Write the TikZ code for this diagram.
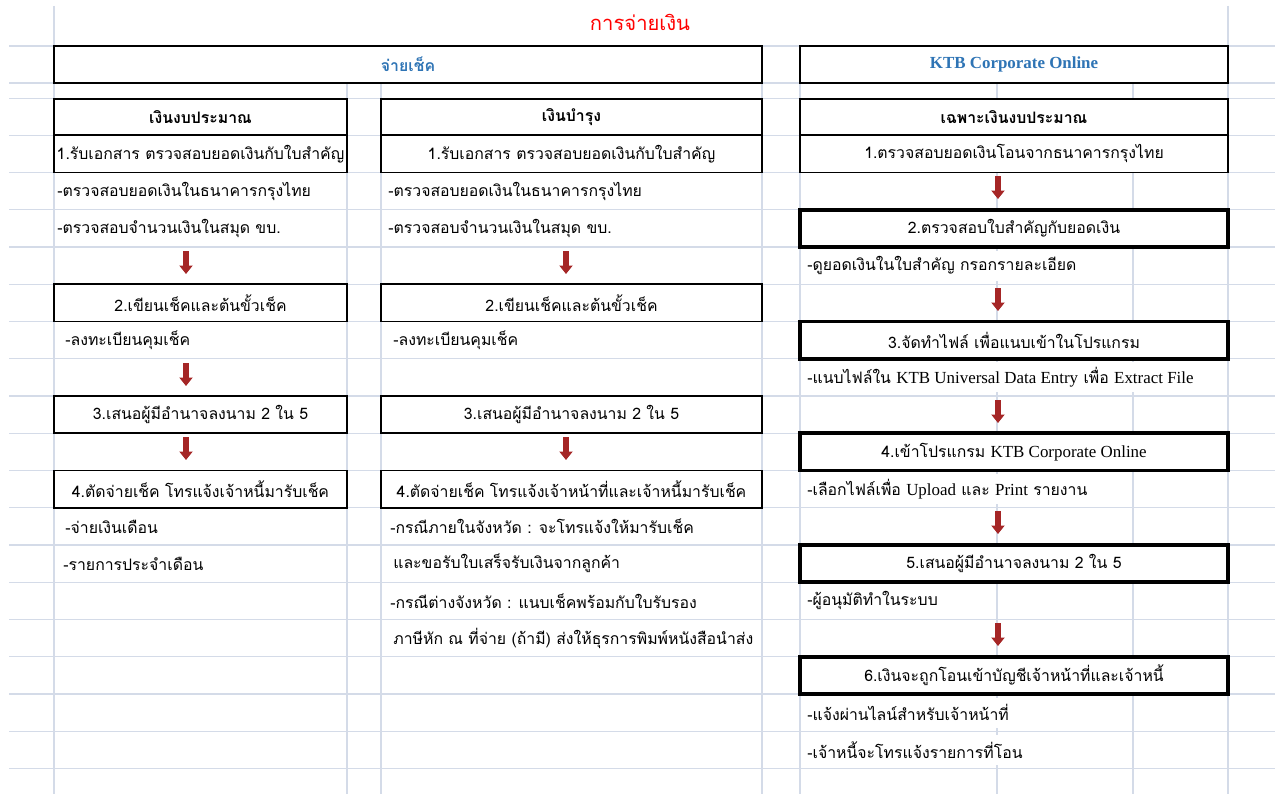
\documentclass[tikz,border=0pt]{standalone}
\usepackage{fontspec}
\setmainfont[Script=Thai]{Loma}
\newfontfamily\latinfont[Scale=1.07]{Liberation Serif}
\usetikzlibrary{arrows.meta}
\definecolor{gridline}{RGB}{212,219,232}
\definecolor{headblue}{RGB}{46,116,181}
\definecolor{arrowred}{RGB}{165,38,38}
\newcommand{\enword}[1]{{\latinfont #1}}

\begin{document}
\begin{tikzpicture}[x=0.02cm, y=-0.02cm,
  every node/.style={font=\fontsize{9}{11}\selectfont},
  cell/.style={draw, line width=1.1pt, fill=white, inner sep=0pt, minimum height=0.745cm},
  colL/.style={cell, minimum width=5.86cm},
  colM/.style={cell, minimum width=7.62cm},
  colR/.style={cell, minimum width=8.56cm},
  stepR/.style={colR, line width=2.2pt},
  head/.style={font=\fontsize{9}{11}\selectfont\bfseries},
  note/.style={anchor=west, fill=white, inner sep=0pt, minimum height=0.6cm},
  flow/.style={draw=arrowred, line width=0.12cm, -{Triangle[length=0.17cm, width=0.26cm]}}]
  \fill[white] (0,0) rectangle (1275,794);
  \useasboundingbox (0,0) rectangle (1275,794);
  % cuadricula de la hoja
  \foreach \y in {46,83,98.5} \draw[gridline, line width=0.6pt] (9,\y) -- (1275,\y);
  \foreach \k in {0,...,17} \draw[gridline, line width=0.6pt] (9,135.25+37.25*\k) -- (1275,135.25+37.25*\k);
  \foreach \x in {54,1228} \draw[gridline, line width=0.6pt] (\x,6) -- (\x,794);
  \foreach \x in {347,381,762,800,997,1133} \draw[gridline, line width=0.6pt] (\x,83) -- (\x,794);

  % titulo y cabeceras
  \node[text=red, font=\fontsize{11.5}{14}\selectfont] (title) at (640,22) {การจ่ายเงิน};
  \node[cell, minimum width=14.16cm, minimum height=0.74cm, text=headblue, font=\fontsize{9}{11}\selectfont\bfseries] (cheque) at (408,64.5) {จ่ายเช็ค};
  \node[cell, minimum width=8.56cm, minimum height=0.74cm, text=headblue, font=\latinfont\fontsize{9}{11}\selectfont\bfseries] (ktb) at (1014,64.5) {KTB Corporate Online};

  % columna izquierda
  \node[colL, head, minimum height=0.73cm] (lhead) at (200.5,116.9) {เงินงบประมาณ};
  \node[colL] (l1) at (200.5,153.9) {1.รับเอกสาร ตรวจสอบยอดเงินกับใบสำคัญ};
  \node[note] (l1a) at (57,191.1) {-ตรวจสอบยอดเงินในธนาคารกรุงไทย};
  \node[note] (l1b) at (57,228.4) {-ตรวจสอบจำนวนเงินในสมุด ขบ.};
  \node[colL] (l2) at (200.5,302.9) {2.เขียนเช็คและต้นขั้วเช็ค};
  \node[note] (l2a) at (65,340.1) {-ลงทะเบียนคุมเช็ค};
  \node[colL] (l3) at (200.5,414.6) {3.เสนอผู้มีอำนาจลงนาม 2 ใน 5};
  \node[colL] (l4) at (200.5,489.1) {4.ตัดจ่ายเช็ค โทรแจ้งเจ้าหนี้มารับเช็ค};
  \node[note] (l4a) at (65,526.4) {-จ่ายเงินเดือน};
  \node[note] (l4b) at (63,563.6) {-รายการประจำเดือน};

  % columna central
  \node[colM, head, minimum height=0.73cm] (mhead) at (571.5,116.9) {เงินบำรุง};
  \node[colM] (m1) at (571.5,153.9) {1.รับเอกสาร ตรวจสอบยอดเงินกับใบสำคัญ};
  \node[note] (m1a) at (388,191.1) {-ตรวจสอบยอดเงินในธนาคารกรุงไทย};
  \node[note] (m1b) at (388,228.4) {-ตรวจสอบจำนวนเงินในสมุด ขบ.};
  \node[colM] (m2) at (571.5,302.9) {2.เขียนเช็คและต้นขั้วเช็ค};
  \node[note] (m2a) at (393,340.1) {-ลงทะเบียนคุมเช็ค};
  \node[colM] (m3) at (571.5,414.6) {3.เสนอผู้มีอำนาจลงนาม 2 ใน 5};
  \node[colM] (m4) at (571.5,489.1) {4.ตัดจ่ายเช็ค โทรแจ้งเจ้าหน้าที่และเจ้าหนี้มารับเช็ค};
  \node[note] (m4a) at (390,526.4) {-กรณีภายในจังหวัด : จะโทรแจ้งให้มารับเช็ค};
  \node[note] (m4b) at (393,563.6) {และขอรับใบเสร็จรับเงินจากลูกค้า};
  \node[note] (m4c) at (390,600.9) {-กรณีต่างจังหวัด : แนบเช็คพร้อมกับใบรับรอง};
  \node[note] (m4d) at (393,638.1) {ภาษีหัก ณ ที่จ่าย (ถ้ามี) ส่งให้ธุรการพิมพ์หนังสือนำส่ง};

  % columna derecha
  \node[colR, head, minimum height=0.73cm] (rhead) at (1014,116.9) {เฉพาะเงินงบประมาณ};
  \node[colR] (r1) at (1014,153.9) {1.ตรวจสอบยอดเงินโอนจากธนาคารกรุงไทย};
  \node[stepR] (r2) at (1014,228.4) {2.ตรวจสอบใบสำคัญกับยอดเงิน};
  \node[note] (r2a) at (807,265.6) {-ดูยอดเงินในใบสำคัญ กรอกรายละเอียด};
  \node[stepR] (r3) at (1014,340.1) {3.จัดทำไฟล์ เพื่อแนบเข้าในโปรแกรม};
  \node[note] (r3a) at (807,377.4) {-แนบไฟล์ใน \enword{KTB Universal Data Entry} เพื่อ \enword{Extract File}};
  \node[stepR] (r4) at (1014,451.9) {4.เข้าโปรแกรม \enword{KTB Corporate Online}};
  \node[note] (r4a) at (807,489.1) {-เลือกไฟล์เพื่อ \enword{Upload} และ \enword{Print} รายงาน};
  \node[stepR] (r5) at (1014,563.6) {5.เสนอผู้มีอำนาจลงนาม 2 ใน 5};
  \node[note] (r5a) at (807,600.9) {-ผู้อนุมัติทำในระบบ};
  \node[stepR] (r6) at (1014,675.4) {6.เงินจะถูกโอนเข้าบัญชีเจ้าหน้าที่และเจ้าหนี้};
  \node[note] (r6a) at (807,712.6) {-แจ้งผ่านไลน์สำหรับเจ้าหน้าที่};
  \node[note] (r6b) at (807,749.9) {-เจ้าหนี้จะโทรแจ้งรายการที่โอน};

  % flechas
  \coordinate (la1s) at (186,251); \coordinate (la1e) at (186,274);
  \coordinate (la2s) at (186,363); \coordinate (la2e) at (186,386);
  \coordinate (la3s) at (186,437); \coordinate (la3e) at (186,460);
  \coordinate (ma1s) at (566,251); \coordinate (ma1e) at (566,274);
  \coordinate (ma2s) at (566,437); \coordinate (ma2e) at (566,460);
  \coordinate (ra1s) at (998,176); \coordinate (ra1e) at (998,199);
  \coordinate (ra2s) at (998,288); \coordinate (ra2e) at (998,311);
  \coordinate (ra3s) at (998,400); \coordinate (ra3e) at (998,423);
  \coordinate (ra4s) at (998,511); \coordinate (ra4e) at (998,534);
  \coordinate (ra5s) at (998,623); \coordinate (ra5e) at (998,646);
  \foreach \a in {la1,la2,la3,ma1,ma2,ra1,ra2,ra3,ra4,ra5}
    \draw[flow] (\a s) -- (\a e);
\end{tikzpicture}
\end{document}
